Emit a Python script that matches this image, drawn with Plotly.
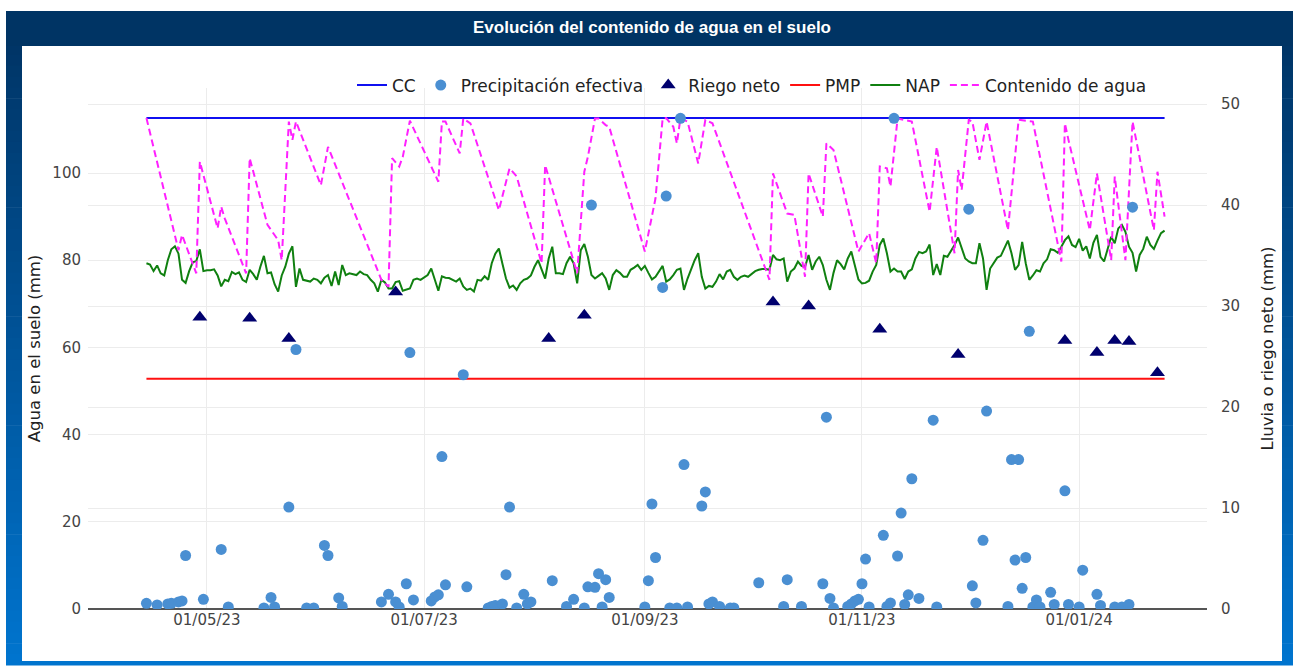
import plotly.graph_objects as go
import pandas as pd

# ---------------- data ----------------
START_DATE = "2023-04-14"

# NAP (daily, from START_DATE)
nap_values = [
    79.3, 79.0, 77.5, 78.8, 77.0, 76.5, 80.0, 82.5, 83.2, 81.5,
    75.5, 74.8, 77.5, 79.5, 79.8, 82.5, 77.5, 77.7, 77.7, 77.9,
    76.5, 74.0, 75.5, 75.2, 77.3, 76.8, 77.2, 75.5, 75.0, 77.8,
    76.8, 75.5, 78.5, 81.0, 77.0, 77.2, 74.5, 72.8, 76.5, 78.5,
    81.5, 83.2, 73.9, 78.1, 75.5, 75.3, 75.1, 75.8, 75.5, 74.7,
    76.0, 76.6, 74.1, 77.4, 74.3, 78.9, 76.6, 77.0, 76.8, 76.6,
    77.4, 76.8, 76.6, 75.5, 74.7, 72.8, 75.5, 74.9, 73.5, 73.5,
    75.0, 75.2, 73.0, 73.2, 73.5, 75.5, 75.8, 75.5, 76.0, 76.6,
    78.1, 75.5, 73.0, 76.3, 76.0, 75.9, 75.5, 75.1, 75.8, 74.0,
    73.2, 73.5, 72.8, 75.5, 75.3, 76.3, 75.5, 79.3, 81.5, 82.7,
    79.2, 75.8, 73.7, 74.2, 73.2, 74.7, 75.5, 75.8, 76.5, 78.5,
    80.0, 77.8, 75.8, 80.4, 83.1, 77.0, 77.0, 76.8, 79.3, 80.8,
    79.3, 74.7, 82.3, 83.7, 80.8, 76.6, 75.8, 76.4, 77.0, 75.8,
    73.2, 76.6, 77.7, 77.1, 76.2, 76.2, 77.8, 78.3, 78.9, 77.8,
    78.7, 77.1, 75.6, 76.2, 77.4, 78.7, 75.1, 75.6, 76.6, 77.8,
    78.1, 73.2, 75.8, 78.1, 80.0, 81.6, 76.2, 73.5, 74.1, 73.9,
    75.1, 76.8, 75.6, 77.4, 77.8, 76.2, 75.5, 76.2, 76.5, 76.2,
    76.8, 77.5, 77.8, 78.0, 78.0, 77.8, 81.2, 80.2, 80.0, 80.4,
    75.1, 77.4, 78.1, 79.7, 78.7, 78.5, 81.2, 77.8, 79.7, 80.8,
    78.9, 75.5, 73.2, 77.1, 80.0, 79.1, 77.9, 80.4, 82.0, 78.5,
    75.6, 74.7, 74.8, 75.3, 77.4, 78.9, 83.5, 85.0, 81.6, 77.4,
    78.1, 77.4, 77.4, 75.7, 77.4, 77.9, 80.4, 81.9, 81.6, 82.0,
    83.6, 76.6, 79.1, 76.6, 81.0, 80.8, 82.0, 83.5, 85.2, 82.7,
    80.4, 79.7, 79.3, 79.3, 83.9, 80.4, 73.2, 78.1, 79.4, 80.6,
    81.0, 82.6, 84.5, 81.6, 77.8, 78.9, 84.2, 79.3, 75.5, 76.5,
    77.7, 77.4, 79.3, 80.2, 82.5, 82.3, 81.7, 83.1, 84.6, 85.5,
    83.5, 83.0, 84.9, 82.2, 83.2, 80.4, 84.0, 85.8, 80.8, 79.7,
    82.3, 85.4, 83.9, 87.3, 88.1, 86.5, 83.1, 81.7, 77.4, 81.2,
    82.6, 85.4, 83.5, 82.6, 84.5, 86.2, 86.8,
]

# Contenido de agua (day offset from START_DATE, mm)
contenido_days = [
    0, 9, 10, 14, 15, 20, 21, 22, 28, 29, 34, 37, 38, 40, 41, 42, 49, 51, 66, 68,
    69, 71, 72, 74, 82, 83, 84, 88, 89, 91, 99, 102, 104, 111, 112, 121, 123, 124, 126, 127,
    129, 130, 140, 143, 145, 146, 148, 149, 150, 152, 155, 157, 159, 175, 176, 180, 182, 185, 186, 190,
    191, 193, 200, 203, 205, 206, 208, 209, 211, 215, 220, 222, 227, 228, 229, 231, 232, 234, 236, 242,
    245, 249, 257, 258, 259, 265, 267, 271, 272, 275, 277, 283, 284, 286,
]
contenido_values = [
    112.6, 82.3, 85.8, 77.0, 102.6, 87.3, 92.3, 89.6, 77.0, 103.4, 88.1, 84.6, 80.0, 111.8, 107.6, 111.8, 97.2, 106.0, 75.5, 73.9,
    103.4, 101.5, 103.7, 112.0, 98.0, 111.8, 111.8, 104.5, 112.5, 111.4, 91.5, 101.1, 99.2, 79.3, 101.8, 77.0, 100.3, 103.7, 112.5, 112.5,
    111.0, 110.6, 82.0, 94.2, 112.5, 112.6, 110.6, 106.8, 112.5, 111.8, 102.2, 112.2, 111.4, 75.5, 99.9, 90.7, 90.4, 76.2, 99.9, 90.0,
    106.8, 105.3, 82.0, 86.2, 79.3, 101.5, 101.1, 96.9, 112.5, 111.8, 91.1, 106.0, 81.6, 100.7, 96.1, 112.2, 111.8, 103.0, 111.8, 86.9,
    112.2, 111.8, 79.7, 111.4, 107.6, 86.9, 99.9, 80.0, 99.2, 80.0, 111.8, 86.9, 100.3, 90.0,
]

# Precipitación efectiva (day offset, mm) - right axis
precip_days = [
    0, 3, 6, 7, 9, 10, 11, 16, 21, 23,
    33, 35, 36, 40, 42, 45, 47, 50, 51, 54,
    55, 66, 68, 70, 71, 73, 74, 75, 80, 81,
    82, 83, 84, 89, 90, 96, 97, 98, 100, 101,
    102, 104, 106, 107, 108, 114, 118, 120, 123, 124,
    125, 126, 127, 128, 129, 130, 140, 141, 142, 143,
    145, 146, 147, 149, 150, 151, 152, 156, 157, 158,
    159, 161, 164, 165, 172, 179, 180, 184, 190, 191,
    192, 193, 197, 198, 199, 200, 201, 202, 203, 207,
    208, 209, 210, 211, 212, 213, 214, 215, 217, 221,
    222, 231, 232, 233, 235, 236, 242, 243, 244, 245,
    246, 247, 248, 249, 250, 251, 254, 255, 258, 259,
    262, 263, 267, 268, 272, 274, 276, 277,
]
precip_values = [
    0.56, 0.4, 0.5, 0.56, 0.7, 0.8, 5.3, 0.96, 5.9, 0.2,
    0.1, 1.15, 0.2, 10.1, 25.7, 0.1, 0.1, 6.3, 5.3, 1.1,
    0.25, 0.7, 1.45, 0.7, 0.2, 2.5, 25.4, 0.9, 0.8, 1.2,
    1.4, 15.1, 2.4, 23.2, 2.2, 0.1, 0.25, 0.35, 0.5, 3.4,
    10.1, 0.1, 1.45, 0.5, 0.7, 2.8, 0.25, 0.96, 0.1, 2.2,
    40.0, 2.15, 3.5, 0.2, 2.9, 1.15, 0.2, 2.8, 10.4, 5.1,
    31.85, 40.9, 0.1, 0.1, 48.6, 14.3, 0.2, 10.2, 11.6, 0.5,
    0.7, 0.25, 0.1, 0.1, 2.6, 0.25, 2.9, 0.25, 2.5, 19.0,
    1.05, 0.1, 0.25, 0.5, 0.8, 0.96, 2.5, 4.95, 0.2, 7.3,
    0.25, 0.6, 48.6, 5.25, 9.5, 0.45, 1.4, 12.9, 1.05, 18.7,
    0.2, 39.6, 2.3, 0.6, 6.8, 19.6, 0.25, 14.8, 4.85, 14.8,
    2.05, 5.1, 27.5, 0.2, 0.9, 0.2, 1.65, 0.45, 11.7, 0.45,
    0.2, 3.85, 1.45, 0.35, 0.2, 0.2, 0.45, 39.8,
]

# Riego neto (day offset, mm) - right axis
riego_days = [15, 29, 40, 70, 113, 123, 176, 186, 206, 228, 258, 267, 272, 276, 284]
riego_values = [28.9, 28.8, 26.8, 31.4, 26.8, 29.1, 30.4, 30.0, 27.7, 25.2, 26.6, 25.4, 26.6, 26.5, 23.4]

CC_VALUE = 112.6
PMP_VALUE = 52.8

x_tick_dates = ["2023-05-01", "2023-07-01", "2023-09-01", "2023-11-01", "2024-01-01"]
x_tick_labels = ["01/05/23", "01/07/23", "01/09/23", "01/11/23", "01/01/24"]
y_left_ticks = [0, 20, 40, 60, 80, 100]
y_right_ticks = [0, 10, 20, 30, 40, 50]

TITLE = "Evolución del contenido de agua en el suelo"

# ---------------- helpers ----------------
start = pd.Timestamp(START_DATE)


def to_dates(days):
    return [start + pd.Timedelta(days=int(d)) for d in days]


nap_dates = to_dates(range(len(nap_values)))
end_date = nap_dates[-1]

W, H = 1299, 670
ML, MR, MT, MB = 88, 92, 88, 61
PW = W - ML - MR
PH = H - MT - MB


def pxx(px):
    return (px - ML) / PW


def pxy(py):
    return (H - MB - py) / PH


FONT = "DejaVu Sans"

fig = go.Figure()

fig.add_trace(go.Scatter(
    x=[start, end_date], y=[CC_VALUE, CC_VALUE], mode="lines", name="CC",
    line=dict(color="#1010f0", width=2), yaxis="y"))
fig.add_trace(go.Scatter(
    x=to_dates(precip_days), y=precip_values, mode="markers", name="Precipitación efectiva",
    marker=dict(color="#4a8fd2", size=11, symbol="circle"), yaxis="y2"))
fig.add_trace(go.Scatter(
    x=to_dates(riego_days), y=riego_values, mode="markers", name="Riego neto",
    marker=dict(color="#00006e", size=13, symbol="triangle-up"), yaxis="y2"))
fig.add_trace(go.Scatter(
    x=[start, end_date], y=[PMP_VALUE, PMP_VALUE], mode="lines", name="PMP",
    line=dict(color="#ff1010", width=2), yaxis="y"))
fig.add_trace(go.Scatter(
    x=nap_dates, y=nap_values, mode="lines", name="NAP",
    line=dict(color="#108010", width=2), yaxis="y"))
fig.add_trace(go.Scatter(
    x=to_dates(contenido_days), y=contenido_values, mode="lines", name="Contenido de agua",
    line=dict(color="#ff20ff", width=2, dash="7px,4px"), yaxis="y"))

# ---------------- frame (gradient border + white panel) ----------------
shapes = []
top_px, bot_px = 11, 665
n = 60
c0 = (0, 50, 98)
c1 = (0, 116, 206)
for i in range(n):
    t = i / (n - 1)
    col = tuple(int(round(c0[k] + (c1[k] - c0[k]) * t)) for k in range(3))
    y0 = top_px + (bot_px - top_px) * i / n
    y1 = top_px + (bot_px - top_px) * (i + 1) / n + 0.6
    shapes.append(dict(type="rect", xref="paper", yref="paper", layer="below",
                       x0=pxx(6), x1=pxx(1293), y0=pxy(y1), y1=pxy(y0),
                       fillcolor="rgb(%d,%d,%d)" % col, line=dict(width=0)))
# title bar
shapes.append(dict(type="rect", xref="paper", yref="paper", layer="below",
                   x0=pxx(6), x1=pxx(1293), y0=pxy(46), y1=pxy(11),
                   fillcolor="rgb(0,52,100)", line=dict(width=0)))
# white panel
shapes.append(dict(type="rect", xref="paper", yref="paper", layer="below",
                   x0=pxx(22), x1=pxx(1282), y0=pxy(661), y1=pxy(46),
                   fillcolor="#ffffff", line=dict(width=0)))

fig.update_layout(
    width=W, height=H,
    margin=dict(l=ML, r=MR, t=MT, b=MB, pad=0),
    paper_bgcolor="#ffffff",
    plot_bgcolor="rgba(0,0,0,0)",
    font=dict(family=FONT, size=15, color="#444"),
    shapes=shapes,
    showlegend=True,
    legend=dict(orientation="h", x=pxx(1152), xanchor="right", y=pxy(85.5), yanchor="middle",
                font=dict(family=FONT, size=17, color="#222"), bgcolor="rgba(0,0,0,0)",
                itemwidth=30, tracegroupgap=0),
    annotations=[dict(text="<b>" + TITLE + "</b>", xref="paper", yref="paper",
                      x=pxx(652), y=pxy(28), xanchor="center", yanchor="middle",
                      showarrow=False,
                      font=dict(family="Liberation Sans", size=17, color="#ffffff"))],
    xaxis=dict(
        type="date",
        range=["2023-03-28 14:00", "2024-02-05 22:00"],
        tickvals=x_tick_dates, ticktext=x_tick_labels,
        showgrid=True, gridcolor="#ececec", gridwidth=1,
        showline=False, zeroline=False, ticks="",
        tickfont=dict(family=FONT, size=15, color="#444"),
    ),
    yaxis=dict(
        range=[0, 119.5], tickvals=y_left_ticks,
        showgrid=True, gridcolor="#ececec", gridwidth=1,
        zeroline=True, zerolinecolor="#555", zerolinewidth=1.5,
        showline=False, ticks="", ticklabelstandoff=6,
        title=dict(text="Agua en el suelo (mm)", font=dict(family=FONT, size=16.5, color="#222"), standoff=7),
        tickfont=dict(family=FONT, size=15, color="#444"),
    ),
    yaxis2=dict(
        range=[0, 51.6], tickvals=y_right_ticks,
        overlaying="y", side="right",
        showgrid=True, gridcolor="#ececec", gridwidth=1,
        zeroline=False, showline=False, ticks="", ticklabelstandoff=13,
        title=dict(text="Lluvia o riego neto (mm)", font=dict(family=FONT, size=16.5, color="#222"), standoff=22),
        tickfont=dict(family=FONT, size=15, color="#444"),
    ),
)

fig.write_html("out.html", config={"displayModeBar": False},
               post_script="document.body.style.margin='0';document.body.style.overflow='hidden';")
